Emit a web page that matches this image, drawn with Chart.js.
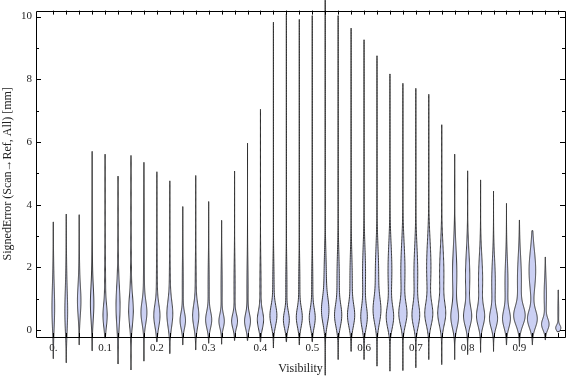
<!DOCTYPE html>
<html>
<head>
<meta charset="utf-8">
<script src="https://cdn.jsdelivr.net/npm/chart.js@4.4.0/dist/chart.umd.min.js"></script>
<style>
  html, body { margin: 0; padding: 0; background: #fff; }
</style>
</head>
<body>
<canvas id="myChart" width="576" height="377"></canvas>
<script>
// one violin per visibility bin
const visibility = [0, 0.025, 0.05, 0.075, 0.1, 0.125, 0.15, 0.175, 0.2, 0.225,
  0.25, 0.275, 0.3, 0.325, 0.35, 0.375, 0.4, 0.425, 0.45, 0.475,
  0.5, 0.525, 0.55, 0.575, 0.6, 0.625, 0.65, 0.675, 0.7, 0.725,
  0.75, 0.775, 0.8, 0.825, 0.85, 0.875, 0.9, 0.925, 0.95, 0.975];

// largest / smallest signed error in each bin [mm]
const maxErr = [3.45, 3.70, 3.68, 5.70, 5.61, 4.91, 5.57, 5.35, 5.05, 4.76,
  3.94, 4.93, 4.10, 3.50, 5.07, 5.96, 7.04, 9.82, 10.08, 9.91,
  10.03, 10.7, 10.03, 9.63, 9.26, 8.75, 8.17, 7.87, 7.71, 7.52,
  6.55, 5.61, 5.08, 4.79, 4.43, 4.04, 3.51, 3.17, 2.33, 1.28];
const minErr = [-0.91, -1.04, -0.47, -0.66, -0.25, -1.08, -1.27, -0.99, -0.37, -0.75,
  -0.47, -0.63, -0.42, -0.45, -0.33, -0.33, -0.37, -0.57, -0.37, -0.47,
  -0.37, -1.44, -0.94, -0.68, -0.94, -1.15, -1.31, -1.29, -1.20, -0.94,
  -1.10, -0.94, -0.78, -0.71, -0.68, -0.47, -0.52, -0.47, -0.31, -0.05];

// main density peak: location, relative density, spread
const modeErr = [0.6, 0.5, 0.9, 0.8, 0.45, 0.7, 0.6, 0.55, 0.45, 0.5,
  0.3, 0.45, 0.32, 0.28, 0.28, 0.28, 0.32, 0.45, 0.32, 0.4,
  0.38, 0.6, 0.45, 0.45, 0.4, 0.6, 0.4, 0.5, 0.45, 0.5,
  0.5, 0.4, 0.42, 0.42, 0.35, 0.35, 0.45, 0.35, 0.18, 0.07];
const modeDensity = [1.2, 1.3, 1.6, 1.6, 2.2, 2.0, 2.4, 3.2, 3.4, 3.2,
  3.0, 3.4, 3.4, 3.0, 3.3, 3.3, 3.5, 3.8, 3.3, 3.3,
  3.3, 3.8, 3.8, 3.8, 3.5, 4.0, 4.0, 4.3, 4.0, 4.3,
  4.0, 4.0, 4.2, 4.2, 4.2, 4.2, 6.2, 5.7, 4.2, 2.9];
const modeSpread = [0.6, 0.6, 0.45, 0.5, 0.35, 0.6, 0.45, 0.35, 0.35, 0.4,
  0.25, 0.35, 0.26, 0.22, 0.22, 0.24, 0.28, 0.32, 0.27, 0.3,
  0.3, 0.4, 0.35, 0.35, 0.35, 0.4, 0.35, 0.35, 0.35, 0.35,
  0.35, 0.33, 0.3, 0.3, 0.28, 0.28, 0.3, 0.28, 0.18, 0.09];

// upper shoulder of the distribution
const upperErr = [1.4, 1.4, 1.4, 1.4, 1.4, 1.4, 1.4, 1.4, 1.4, 1.4,
  1.4, 1.4, 1.4, 1.4, 1.4, 1.4, 1.4, 1.4, 1.4, 1.4,
  1.4, 1.6, 1.6, 1.6, 1.8, 1.8, 1.9, 1.9, 1.8, 2.0,
  1.8, 1.8, 1.7, 1.6, 1.5, 1.5, 1.6, 1.9, 1.1, 0.6];
const upperDensity = [0.6, 0.6, 0.6, 0.6, 0.6, 0.6, 0.6, 0.6, 0.6, 0.6,
  0.6, 0.6, 0.7, 0.7, 0.7, 0.7, 0.7, 0.8, 0.7, 0.7,
  0.7, 1.4, 1.4, 1.4, 1.8, 2.0, 2.3, 2.5, 2.3, 2.6,
  2.6, 2.6, 2.6, 2.5, 2.2, 1.8, 2.4, 4.0, 1.4, 0.5];
const upperSpread = [0.9, 0.9, 0.9, 0.9, 0.9, 0.9, 0.9, 0.9, 0.9, 0.9,
  0.9, 0.9, 0.8, 0.8, 0.8, 0.8, 0.8, 0.8, 0.8, 0.8,
  0.8, 0.85, 0.85, 0.85, 0.85, 0.85, 0.85, 0.85, 0.85, 0.85,
  0.85, 0.85, 0.8, 0.75, 0.75, 0.75, 0.75, 0.65, 0.55, 0.4];

const xTickValues = [0, 0.1, 0.2, 0.3, 0.4, 0.5, 0.6, 0.7, 0.8, 0.9];
const xTickLabels = ['0.', '0.1', '0.2', '0.3', '0.4', '0.5', '0.6', '0.7', '0.8', '0.9'];
const yTickValues = [0, 2, 4, 6, 8, 10];
const yMinorTicks = [1, 3, 5, 7, 9];

const widthUnit = 0.0016; // visibility units per density unit

function bump(e, c, s) {
  const z = (e - c) / s;
  return Math.exp(-0.5 * z * z);
}

const violins = {
  id: 'violins',
  afterDatasetsDraw(chart) {
    const ctx = chart.ctx;
    const x = chart.scales.x, y = chart.scales.y;
    ctx.save();
    ctx.fillStyle = 'rgb(203,208,243)';
    ctx.strokeStyle = 'rgba(45,45,45,0.95)';
    ctx.lineWidth = 1;
    ctx.lineJoin = 'round';
    visibility.forEach(function(v, i) {
      const cx = x.getPixelForValue(v);
      const steps = 200;
      const pts = [];
      for (let k = 0; k <= steps; k++) {
        const e = minErr[i] + (maxErr[i] - minErr[i]) * k / steps;
        const d = modeDensity[i] * bump(e, modeErr[i], modeSpread[i]) +
                  upperDensity[i] * bump(e, upperErr[i], upperSpread[i]);
        const hw = x.getPixelForValue(v + d * widthUnit) - cx;
        pts.push([hw, y.getPixelForValue(e)]);
      }
      ctx.beginPath();
      pts.forEach(function(p, k) {
        if (k === 0) ctx.moveTo(cx + p[0], p[1]); else ctx.lineTo(cx + p[0], p[1]);
      });
      for (let k = pts.length - 1; k >= 0; k--) ctx.lineTo(cx - pts[k][0], pts[k][1]);
      ctx.closePath();
      ctx.fill();
      ctx.stroke();
    });
    ctx.restore();
  }
};

const frame = {
  id: 'frame',
  afterDraw(chart) {
    const ctx = chart.ctx;
    const a = chart.chartArea;
    const x = chart.scales.x, y = chart.scales.y;
    ctx.save();
    ctx.strokeStyle = '#000';
    ctx.lineWidth = 1;
    ctx.beginPath();
    ctx.rect(Math.round(a.left) + 0.5, Math.round(a.top) + 0.5,
      Math.round(a.right - a.left), Math.round(a.bottom - a.top));
    visibility.forEach(function(v) {
      const px = Math.round(x.getPixelForValue(v)) + 0.5;
      ctx.moveTo(px, a.bottom); ctx.lineTo(px, a.bottom - 4);
      ctx.moveTo(px, a.top); ctx.lineTo(px, a.top + 4);
    });
    yTickValues.forEach(function(v) {
      const py = Math.round(y.getPixelForValue(v)) + 0.5;
      ctx.moveTo(a.left, py); ctx.lineTo(a.left + 5, py);
      ctx.moveTo(a.right, py); ctx.lineTo(a.right - 5, py);
    });
    yMinorTicks.forEach(function(v) {
      const py = Math.round(y.getPixelForValue(v)) + 0.5;
      ctx.moveTo(a.left, py); ctx.lineTo(a.left + 3, py);
      ctx.moveTo(a.right, py); ctx.lineTo(a.right - 3, py);
    });
    ctx.stroke();
    ctx.restore();
  }
};

const serif = 'Liberation Serif, Times New Roman, serif';

new Chart(document.getElementById('myChart'), {
  type: 'scatter',
  data: {
    datasets: [{
      data: visibility.map(function(v, i) { return { x: v, y: modeErr[i] }; }),
      pointRadius: 0,
      showLine: false
    }]
  },
  options: {
    responsive: false,
    animation: false,
    devicePixelRatio: 1,
    layout: { padding: { top: 5, right: 11, left: 0, bottom: 0 } },
    plugins: { legend: { display: false }, tooltip: { enabled: false } },
    scales: {
      x: {
        type: 'linear',
        min: -0.0334,
        max: 0.988,
        grid: { display: false, drawTicks: false },
        border: { display: false },
        afterFit: function(s) { s.height = 40; },
        afterBuildTicks: function(s) { s.ticks = xTickValues.map(function(v) { return { value: v }; }); },
        ticks: {
          autoSkip: false,
          maxRotation: 0,
          padding: 5,
          color: '#222',
          font: { family: serif, size: 11 },
          callback: function(v) { return xTickLabels[xTickValues.indexOf(v)]; }
        },
        title: {
          display: true,
          text: 'Visibility',
          color: '#222',
          font: { family: serif, size: 12 },
          padding: { top: 0, bottom: 1 }
        }
      },
      y: {
        type: 'linear',
        min: -0.22,
        max: 10.19,
        grid: { display: false, drawTicks: false },
        border: { display: false },
        afterFit: function(s) { s.width = 36; },
        afterBuildTicks: function(s) { s.ticks = yTickValues.map(function(v) { return { value: v }; }); },
        ticks: {
          padding: 4,
          color: '#222',
          font: { family: serif, size: 11 }
        },
        title: {
          display: true,
          text: 'SignedError (Scan\u2192Ref, All) [mm]',
          color: '#222',
          font: { family: serif, size: 12 },
          padding: { top: 1, bottom: 0 }
        }
      }
    }
  },
  plugins: [violins, frame]
});
</script>
</body>
</html>
